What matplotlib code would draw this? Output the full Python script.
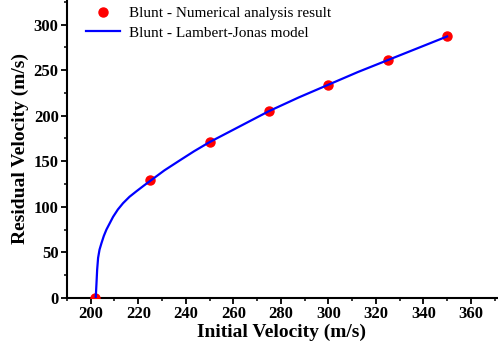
import matplotlib
matplotlib.use("Agg")
from matplotlib import pyplot as plt
from matplotlib.ticker import MultipleLocator

# numerical analysis points
v_init = [202, 225, 250, 275, 300, 325, 350]
v_res = [0, 129, 171, 205, 234, 261, 287]

# Lambert-Jonas curve
model_x = [202.1, 202.4, 202.7, 203.1, 203.7, 204.5, 205.5, 206.6, 208.0, 209.4, 211.4,
           213.6, 216.3, 219.2, 222.2, 225.3, 231, 237.5, 243.5, 250, 262.5, 275,
           287.5, 300, 312.5, 325, 337.5, 350]
model_y = [0, 15, 31, 44, 53, 60, 68, 75, 82, 89, 97,
           104, 111, 117, 123, 129, 140, 151, 161, 171, 188, 205,
           220, 234, 248, 261, 274, 287]

plt.rcParams['font.family'] = ['Liberation Serif', 'DejaVu Serif']

fig = plt.figure(figsize=(4.98, 3.53), dpi=100)
ax = fig.add_axes([0.1345, 0.156, 0.8635, 0.844])

ax.plot(v_init, v_res, 'o', color='#ff0000', markersize=6.5, zorder=3,
        label='Blunt - Numerical analysis result')
ax.plot(model_x, model_y, '-', color='#0000ff', linewidth=1.6, zorder=4,
        label='Blunt - Lambert-Jonas model')

ax.set_xlim(190, 371)
ax.set_ylim(0, 327)
ax.xaxis.set_major_locator(MultipleLocator(20))
ax.xaxis.set_minor_locator(MultipleLocator(10))
ax.yaxis.set_major_locator(MultipleLocator(50))
ax.yaxis.set_minor_locator(MultipleLocator(25))

ax.spines['top'].set_visible(False)
ax.spines['right'].set_visible(False)
ax.spines['left'].set_linewidth(1.5)
ax.spines['bottom'].set_linewidth(1.5)
ax.tick_params(which='major', direction='out', length=4, width=1.3, labelsize=12, pad=2)
ax.tick_params(which='minor', direction='out', length=2.5, width=1.1)
for lab in ax.get_xticklabels() + ax.get_yticklabels():
    lab.set_fontweight('bold')

ax.set_xlabel('Initial Velocity (m/s)', fontsize=14, fontweight='bold', labelpad=1)
ax.set_ylabel('Residual Velocity (m/s)', fontsize=14, fontweight='bold', labelpad=3)

ax.legend(loc='upper left', bbox_to_anchor=(0.013, 1.025), frameon=False, fontsize=11,
          handlelength=2.2, handletextpad=0.6, labelspacing=0.4, numpoints=1)

fig.savefig('out.png', dpi=100)
